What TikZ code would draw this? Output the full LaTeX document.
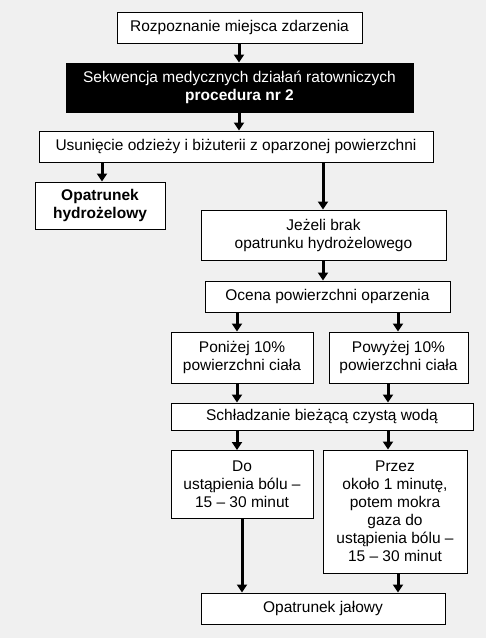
\documentclass[tikz,border=0pt]{standalone}
\usepackage{fontspec}
\setmainfont{Liberation Sans}
\usetikzlibrary{arrows.meta}
\definecolor{bg}{HTML}{F0F0F0}
\tikzset{
  box/.style={draw=black, line width=1pt, fill=white, align=center, inner sep=2pt,
    font=\fontsize{15.5}{18}\selectfont},
  blackbox/.style={box, fill=black, text=white},
  arr/.style={line width=3pt, -{Triangle[length=8pt,width=10pt]}}
}
\begin{document}
\begin{tikzpicture}[x=1pt,y=-1pt]
\fill[bg] (0,0) rectangle (486,638);
\useasboundingbox (0,0) rectangle (486,638);
\node[box, minimum width=245pt, minimum height=31pt] (n1) at (239.5,27.5) {Rozpoznanie miejsca zdarzenia};
\node[blackbox, minimum width=347pt, minimum height=49pt] (n2) at (239.5,87.5) {Sekwencja medycznych działań ratowniczych\\\textbf{procedura nr 2}};
\node[box, minimum width=394pt, minimum height=31pt] (n3) at (236,146.5) {Usunięcie odzieży i biżuterii z oparzonej powierzchni};
\node[box, minimum width=130pt, minimum height=47pt, font=\bfseries\fontsize{15.5}{18}\selectfont] (n4) at (100,205.5) {Opatrunek\\hydrożelowy};
\node[box, minimum width=245pt, minimum height=50pt] (n5) at (323.5,235) {Jeżeli brak\\opatrunku hydrożelowego};
\node[box, minimum width=245pt, minimum height=31pt] (n6) at (327.5,296.5) {Ocena powierzchni oparzenia};
\node[box, minimum width=142pt, minimum height=51pt] (n7) at (242,357.5) {Poniżej 10\%\\powierzchni ciała};
\node[box, minimum width=139pt, minimum height=51pt] (n8) at (398.5,357.5) {Powyżej 10\%\\powierzchni ciała};
\node[box, minimum width=302pt, minimum height=27pt] (n9) at (322,416.5) {Schładzanie bieżącą czystą wodą};
\node[box, minimum width=142pt, minimum height=68pt, anchor=north] (n10) at (242,450) {Do\\ustąpienia bólu –\\15 – 30 minut};
\node[box, minimum width=144pt, minimum height=123pt] (n11) at (395,511.5) {Przez\\około 1 minutę,\\potem mokra\\gaza do\\ustąpienia bólu –\\15 – 30 minut};
\node[box, minimum width=244pt, minimum height=31pt] (n12) at (323,608.5) {Opatrunek jałowy};
\draw[arr] (239,0 |- n1.south) -- (239,0 |- n2.north);
\draw[arr] (239,0 |- n2.south) -- (239,0 |- n3.north);
\draw[arr] (102,0 |- n3.south) -- (102,0 |- n4.north);
\draw[arr] (323,0 |- n3.south) -- (323,0 |- n5.north);
\draw[arr] (323,0 |- n5.south) -- (323,0 |- n6.north);
\draw[arr] (237,0 |- n6.south) -- (237,0 |- n7.north);
\draw[arr] (398,0 |- n6.south) -- (398,0 |- n8.north);
\draw[arr] (237,0 |- n7.south) -- (237,0 |- n9.north);
\draw[arr] (388,0 |- n8.south) -- (388,0 |- n9.north);
\draw[arr] (237,0 |- n9.south) -- (237,0 |- n10.north);
\draw[arr] (388,0 |- n9.south) -- (388,0 |- n11.north);
\draw[arr] (242,0 |- n10.south) -- (242,0 |- n12.north);
\draw[arr] (398,0 |- n11.south) -- (398,0 |- n12.north);
\end{tikzpicture}
\end{document}
